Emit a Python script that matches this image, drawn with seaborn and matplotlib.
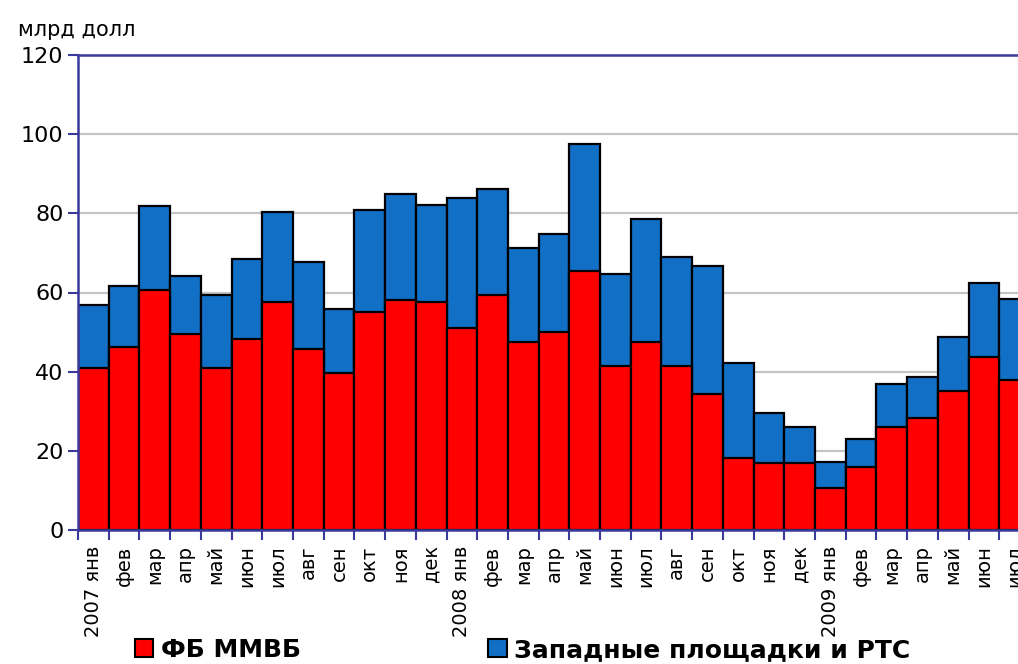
import numpy as np
import pandas as pd
import matplotlib
matplotlib.use("Agg")
import matplotlib.pyplot as plt
import seaborn as sns
from matplotlib.patches import Patch

# monthly turnover, bln USD
months = ["2007 янв", "фев", "мар", "апр", "май", "июн", "июл", "авг", "сен", "окт", "ноя", "дек",
          "2008 янв", "фев", "мар", "апр", "май", "июн", "июл", "авг", "сен", "окт", "ноя", "дек",
          "2009 янв", "фев", "мар", "апр", "май", "июн", "июл"]
micex = [41, 46.2, 60.6, 49.5, 40.9, 48.3, 57.6, 45.7, 39.7, 55.1, 58.1, 57.6,
         51.0, 59.4, 47.5, 50.0, 65.4, 41.4, 47.5, 41.4, 34.4, 18.2, 17.0, 17.0,
         10.6, 15.9, 26.0, 28.3, 35.1, 43.7, 37.9]
total = [56.8, 61.6, 81.9, 64.2, 59.4, 68.4, 80.3, 67.7, 55.8, 80.8, 84.9, 82.1,
         83.9, 86.2, 71.2, 74.8, 97.5, 64.7, 78.6, 69.0, 66.7, 42.2, 29.6, 26.0,
         17.2, 23.0, 36.9, 38.7, 48.8, 62.4, 58.4]
west = [t - m for t, m in zip(total, micex)]

df = pd.DataFrame({"pos": range(len(months)), "micex": micex, "west": west})
df["total"] = df["micex"] + df["west"]

red = "#ff0000"
blue = "#1170c6"
axis_blue = "#3a3a9c"

sns.set_style("white")
plt.rcParams["font.family"] = ["DejaVu Sans"]
plt.rcParams["text.color"] = "black"
plt.rcParams["xtick.color"] = "black"
plt.rcParams["ytick.color"] = "black"

fig = plt.figure(figsize=(10.18, 6.64), dpi=100)
ax = fig.add_axes([78 / 1018, 134 / 664, 952 / 1018, 475 / 664])

# stacked bars: full height in blue, then the MICEX part in red on top
sns.barplot(data=df, x="pos", y="total", color=blue, width=1.0, edgecolor="black",
            linewidth=1.6, saturation=1, ax=ax, zorder=2)
sns.barplot(data=df, x="pos", y="micex", color=red, width=1.0, edgecolor="black",
            linewidth=1.6, saturation=1, ax=ax, zorder=3)

ax.set_xlim(-0.5, len(months) - 0.5)
ax.set_ylim(0, 120)
ax.set_yticks(range(0, 121, 20))
ax.tick_params(axis="y", labelsize=16, length=7, width=1.5, color=axis_blue,
               labelcolor="black", direction="out", left=True)
for y in range(20, 101, 20):
    ax.axhline(y, color="#c4c4c4", lw=1.6, zorder=1)

ax.set_xticks(range(len(months)))
ax.set_xticklabels(months, rotation=90, fontsize=14)
ax.tick_params(axis="x", length=0, pad=11, labelcolor="black")
ax.set_xticks(np.arange(-0.5, len(months), 1), minor=True)
ax.tick_params(axis="x", which="minor", length=7, width=1.5, color=axis_blue, direction="out", bottom=True)

ax.set_xlabel("")
ax.set_ylabel("")
for s in ["left", "top", "bottom", "right"]:
    ax.spines[s].set_color(axis_blue)
    ax.spines[s].set_linewidth(1.8)
    ax.spines[s].set_zorder(4)

fig.text(18 / 1018, 1 - 30 / 664, "млрд долл", fontsize=15, va="center", ha="left", color="black")

handles = [Patch(facecolor=red, edgecolor="black", lw=1.5),
           Patch(facecolor=blue, edgecolor="black", lw=1.5)]
leg = fig.legend(handles, ["ФБ ММВБ", "Западные площадки и РТС"], loc="center left",
                 bbox_to_anchor=(122 / 1018, 14 / 664), ncol=2, frameon=False,
                 prop={"size": 18, "weight": "bold"}, handlelength=0.75, handleheight=0.75,
                 handletextpad=0.3, columnspacing=7.5, borderpad=0)
for t in leg.get_texts():
    t.set_color("black")

fig.savefig("out.png", dpi=100)
